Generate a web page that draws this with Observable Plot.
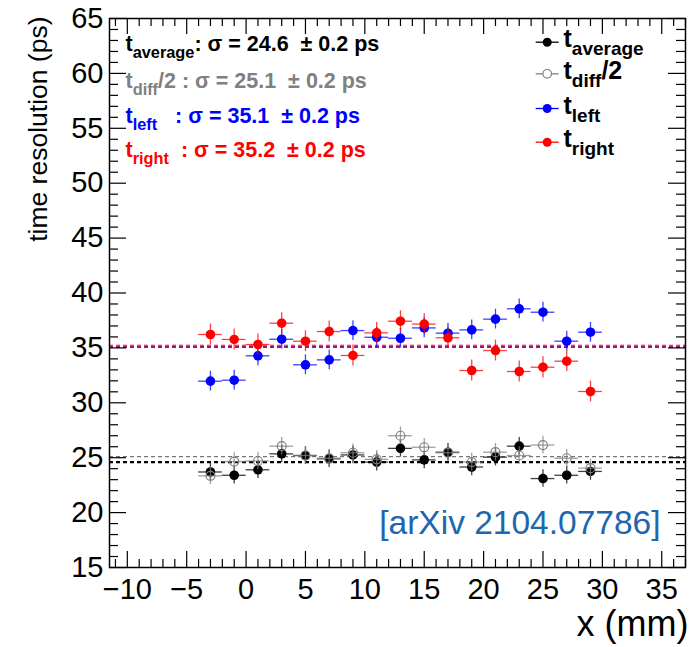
<!DOCTYPE html>
<html><head><meta charset="utf-8">
<script src="https://cdn.jsdelivr.net/npm/d3@7"></script>
<script src="https://cdn.jsdelivr.net/npm/@observablehq/plot@0.6"></script>
<style>
body{margin:0;background:#fff;}
#chart svg{white-space:pre;}
</style></head><body><div id="chart"></div>
<script>
// ---- data ----
const xPos = [-3, -1, 1, 3, 5, 7, 9, 11, 13, 15, 17, 19, 21, 23, 25, 27, 29];
const xErr = 1;
const tAverage = [23.7, 23.4, 23.9, 25.35, 25.2, 24.9, 25.25, 24.6, 25.85, 24.8, 25.5, 24.15, 25.05, 26.05, 23.1, 23.4, 23.75];
const tDiffHalf = [23.35, 24.65, 24.7, 26.05, 25.2, 24.95, 25.45, 24.85, 27.0, 25.95, 25.45, 24.6, 25.5, 25.2, 26.15, 24.95, 24.05];
const tLeft = [31.97, 32.06, 34.28, 35.79, 33.46, 33.91, 36.58, 35.97, 35.88, 36.82, 36.34, 36.64, 37.62, 38.56, 38.25, 35.61, 36.43];
const tRight = [36.22, 35.77, 35.31, 37.25, 35.61, 36.49, 34.31, 36.37, 37.43, 37.17, 35.92, 32.94, 34.76, 32.85, 33.24, 33.79, 31.03];
const yErrs = [0.8, 0.8, 0.9, 0.95];
const seriesNames = ["average", "diff", "left", "right"];
const seriesColors = ["#000000", "#808080", "#0000ff", "#ff0000"];
const sigmaValues = [24.6, 25.1, 35.1, 35.2];
const sigmaErr = 0.2;
const leftLegendTags = ["t_{average}: ", "t_{diff}/2 : ", "t_{left}   : ", "t_{right}  : "];
const rightLegendTags = ["t_{average}", "t_{diff}/2", "t_{left}", "t_{right}"];
const xTicks = [-10, -5, 0, 5, 10, 15, 20, 25, 30, 35];
const yTicks = [15, 20, 25, 30, 35, 40, 45, 50, 55, 60, 65];
const xDomain = [-11.5, 37];
const yDomain = [15, 65];
const watermark = "[arXiv 2104.07786]";
const xTitle = "x (mm)";
const yTitle = "time resolution (ps)";

// ---- layout ----
const W = 692, H = 647, mL = 109, mR = 7, mT = 18, mB = 80;
const plotW = W - mL - mR, plotH = H - mT - mB;
const xMinor = d3.range(Math.ceil(xDomain[0]), Math.floor(xDomain[1]) + 1).filter(v => !xTicks.includes(v));
const yMinor = d3.range(yDomain[0], yDomain[1] + 1).filter(v => !yTicks.includes(v));

const seriesValues = [tAverage, tDiffHalf, tLeft, tRight];
const series = seriesValues.map((vals, k) => vals.map((v, i) => ({x: xPos[i], v, e: yErrs[k]})));

const marks = [];
// fit lines
marks.push(Plot.ruleY([sigmaValues[0]], {stroke: "#000", strokeWidth: 2.4, strokeDasharray: "4,3"}));
marks.push(Plot.ruleY([sigmaValues[1]], {stroke: "#777", strokeWidth: 1.2, strokeDasharray: "4,3"}));
marks.push(Plot.ruleY([sigmaValues[2]], {stroke: "#0000ff", strokeWidth: 2.6, strokeDasharray: "4,3", strokeOpacity: 0.8}));
marks.push(Plot.ruleY([sigmaValues[3]], {stroke: "#ff0000", strokeWidth: 2.6, strokeDasharray: "4,3", strokeOpacity: 0.5}));

// series
series.forEach((d, k) => {
  const c = seriesColors[k];
  marks.push(Plot.ruleY(d, {y: "v", x1: p => p.x - xErr, x2: p => p.x + xErr, stroke: c, strokeWidth: 1.3, strokeOpacity: 0.75}));
  marks.push(Plot.ruleX(d, {x: "x", y1: p => p.v - p.e, y2: p => p.v + p.e, stroke: c, strokeWidth: 1.3, strokeOpacity: 0.75}));
  if (k === 1) marks.push(Plot.dot(d, {x: "x", y: "v", r: 4.5, fill: "none", stroke: c, strokeWidth: 1.2}));
  else marks.push(Plot.dot(d, {x: "x", y: "v", r: 4.8, fill: c, stroke: "none"}));
});

// ticks (ROOT style, inside the frame, on all four sides)
const tk = {stroke: "#000", strokeWidth: 1.2};
marks.push(Plot.tickX(xTicks, {x: d => d, insetTop: plotH - 16, ...tk}));
marks.push(Plot.tickX(xMinor, {x: d => d, insetTop: plotH - 8, ...tk}));
marks.push(Plot.tickX(xTicks, {x: d => d, insetBottom: plotH - 16, ...tk}));
marks.push(Plot.tickX(xMinor, {x: d => d, insetBottom: plotH - 8, ...tk}));
marks.push(Plot.tickY(yTicks, {y: d => d, insetRight: plotW - 17, ...tk}));
marks.push(Plot.tickY(yMinor, {y: d => d, insetRight: plotW - 9, ...tk}));
marks.push(Plot.tickY(yTicks, {y: d => d, insetLeft: plotW - 17, ...tk}));
marks.push(Plot.tickY(yMinor, {y: d => d, insetLeft: plotW - 9, ...tk}));

// tick labels
marks.push(Plot.axisX(xTicks, {tickSize: 0, tickPadding: 11, fontSize: 29, label: null,
  tickFormat: d => d < 0 ? "\u2212" + (-d) : String(d)}));
marks.push(Plot.axisY(yTicks, {tickSize: 0, tickPadding: 6, fontSize: 29, label: null}));

// axis titles
marks.push(Plot.text([yTitle], {text: d => d, frameAnchor: "top-left", rotate: -90, textAnchor: "end",
  lineAnchor: "middle", dx: -71, dy: -2, fontSize: 26.5}));
marks.push(Plot.text([xTitle], {text: d => d, frameAnchor: "bottom-right", textAnchor: "end",
  lineAnchor: "bottom", dx: 3, dy: 68, fontSize: 36}));

// watermark
marks.push(Plot.text([watermark], {text: d => d, frameAnchor: "bottom-right", textAnchor: "end",
  lineAnchor: "bottom", dx: -25, dy: -34, fontSize: 33.5, fill: "#2066ac"}));

// left legend (fit results)
const leftDy = [32, 69, 104.5, 138.5];
sigmaValues.forEach((s, k) => {
  const label = leftLegendTags[k] + "\u03c3 = " + s.toFixed(1) + "  \u00b1 " + sigmaErr.toFixed(1) + " ps";
  marks.push(Plot.text([label], {text: d => d, frameAnchor: "top-left", textAnchor: "start", lineAnchor: "bottom",
    dx: 16, dy: leftDy[k], fontSize: 21.5, fontWeight: "bold", fill: seriesColors[k]}));
});

// right legend
const lineSymbol = {draw(ctx) { ctx.moveTo(-11.5, 0); ctx.lineTo(11.5, 0); }};
const rightDy = [23.7, 55.3, 90, 123.7];
rightLegendTags.forEach((tag, k) => {
  const c = seriesColors[k];
  marks.push(Plot.dot([tag], {frameAnchor: "top-right", dx: -138.3, dy: rightDy[k], symbol: lineSymbol, r: 5, fill: "none", stroke: c, strokeWidth: 1.3}));
  if (k === 1) marks.push(Plot.dot([tag], {frameAnchor: "top-right", dx: -138.3, dy: rightDy[k], r: 4.3, fill: "white", stroke: c, strokeWidth: 1.2}));
  else marks.push(Plot.dot([tag], {frameAnchor: "top-right", dx: -138.3, dy: rightDy[k], r: 4.5, fill: c}));
  marks.push(Plot.text([tag], {text: d => d, frameAnchor: "top-right", textAnchor: "start", lineAnchor: "bottom",
    dx: -122, dy: rightDy[k] + 5, fontSize: 25, fontWeight: "bold", fill: "#000"}));
});

marks.push(Plot.frame({stroke: "#000", strokeWidth: 1.5}));

const chart = Plot.plot({
  width: W, height: H,
  marginLeft: mL, marginRight: mR, marginTop: mT, marginBottom: mB,
  x: {domain: xDomain, label: null},
  y: {domain: yDomain, label: null},
  style: {fontFamily: "'Liberation Sans', Arial, Helvetica, sans-serif", background: "white", color: "black", overflow: "visible"},
  marks
});
document.getElementById("chart").appendChild(chart);
chart.setAttribute("xml:space", "preserve");

// subscripts  t_{...}
d3.select(chart).selectAll("text").each(function () {
  const s = this.textContent;
  if (!s.includes("_{")) return;
  const fs = parseFloat(getComputedStyle(this).fontSize);
  const subFs = fs * 0.76, shift = fs * 0.33;
  const parts = s.split(/_\{([^}]*)\}/);
  this.textContent = "";
  let shifted = false;
  parts.forEach((p, i) => {
    const isSub = i % 2 === 1;
    if (!isSub && p === "") return;
    const t = d3.select(this).append("tspan").text(p);
    if (isSub) { t.attr("font-size", subFs).attr("dy", shift); shifted = true; }
    else if (shifted) { t.attr("dy", -shift); shifted = false; }
  });
});
</script></body></html>
